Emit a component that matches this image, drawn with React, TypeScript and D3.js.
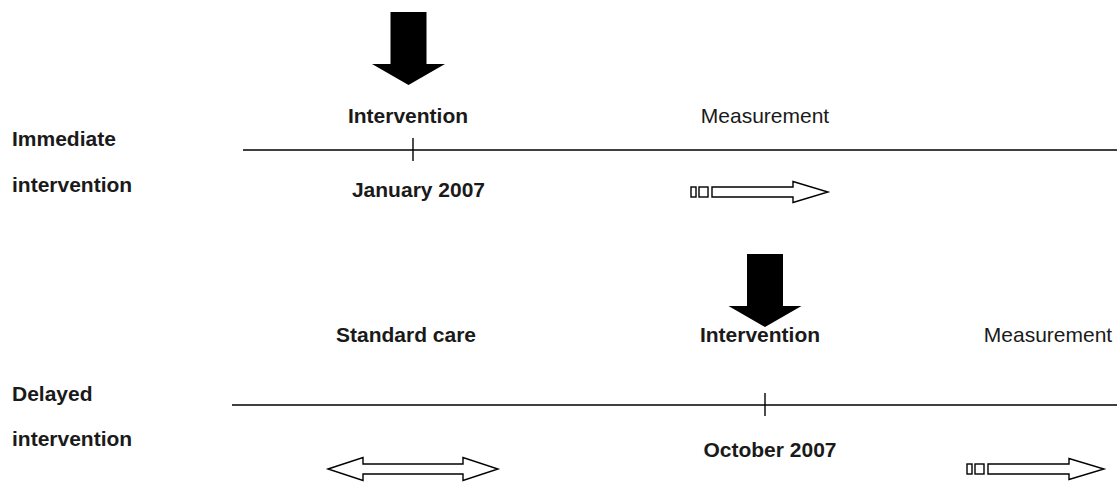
import React from "react";
import * as d3 from "d3";

// ---- data ----
const rowLabels: string[][] = [
  ["Immediate", "intervention"],
  ["Delayed", "intervention"],
];
const interventionMonths: number[] = [0, 9]; // months after January 2007
const dateLabels: string[] = ["January 2007", "October 2007"];
const measurementMonths: number[] = [9, 16];
const standardCareMonths: number[] = [0];
const interventionLabel = "Intervention";
const measurementLabel = "Measurement";
const standardCareLabel = "Standard care";

const W = 1120;
const H = 483;
const FONT = "'Liberation Sans', Arial, Helvetica, sans-serif";
const FS = 21;

export default function App() {
  const x = d3.scaleLinear().domain([0, 9]).range([413, 765]);

  const rowY = [150, 405]; // timeline y
  const lineStart = [243, 232];
  const arrowTop = [12, 254];
  const arrowDx = [-4.5, 0];
  const phaseBaseline = [123, 342];
  const rowLabelY = [[146, 192], [401, 446]];
  const dateBaseline = [197, 457];
  const dateDx = [5.5, 5];
  const interventionDx = [-5, -5];
  const measureLabelX = [765, 1048];
  const measureArrowX = [691, 967];
  const measureArrowY = [192, 469];

  const blackArrow = (cx: number, y0: number) => {
    const p = d3.path();
    p.moveTo(cx - 18, y0);
    p.lineTo(cx + 18, y0);
    p.lineTo(cx + 18, y0 + 52);
    p.lineTo(cx + 36.5, y0 + 52);
    p.lineTo(cx, y0 + 73);
    p.lineTo(cx - 36.5, y0 + 52);
    p.lineTo(cx - 18, y0 + 52);
    p.closePath();
    return p.toString();
  };

  const hollowArrow = (x0: number, cy: number) => {
    const p = d3.path();
    p.moveTo(x0 + 21, cy - 5);
    p.lineTo(x0 + 102, cy - 5);
    p.lineTo(x0 + 102, cy - 10.5);
    p.lineTo(x0 + 137, cy);
    p.lineTo(x0 + 102, cy + 10.5);
    p.lineTo(x0 + 102, cy + 5);
    p.lineTo(x0 + 21, cy + 5);
    p.closePath();
    return p.toString();
  };

  const doubleArrow = (xl: number, xr: number, cy: number) => {
    const p = d3.path();
    p.moveTo(xl, cy);
    p.lineTo(xl + 35, cy - 11.5);
    p.lineTo(xl + 35, cy - 5);
    p.lineTo(xr - 35, cy - 5);
    p.lineTo(xr - 35, cy - 11.5);
    p.lineTo(xr, cy);
    p.lineTo(xr - 35, cy + 11.5);
    p.lineTo(xr - 35, cy + 5);
    p.lineTo(xl + 35, cy + 5);
    p.lineTo(xl + 35, cy + 11.5);
    p.closePath();
    return p.toString();
  };

  const txt = "#1a1a1a";

  return (
    <svg
      width={W}
      height={H}
      style={{ position: "absolute", left: 0, top: 0, background: "#fff" }}
      fontFamily={FONT}
    >
      {/* Row labels */}
      {rowLabels.map((lines, i) => (
        <g key={"rl" + i}>
          {lines.map((l, j) => (
            <text key={j} x={12} y={rowLabelY[i][j]} fontSize={FS} fontWeight="bold" fill={txt}>
              {l}
            </text>
          ))}
        </g>
      ))}

      {/* Timelines */}
      {rowY.map((y, i) => (
        <g key={"tl" + i}>
          <line x1={lineStart[i]} x2={1117} y1={y} y2={y} stroke="#000" strokeWidth={1.4} />
          <line
            x1={x(interventionMonths[i])}
            x2={x(interventionMonths[i])}
            y1={y - 12}
            y2={y + 11}
            stroke="#000"
            strokeWidth={1.4}
          />
        </g>
      ))}

      {/* Black intervention arrows */}
      {interventionMonths.map((m, i) => (
        <path key={"ba" + i} d={blackArrow(x(m) + arrowDx[i], arrowTop[i])} fill="#000" />
      ))}

      {/* Intervention labels */}
      {interventionMonths.map((m, i) => (
        <text
          key={"il" + i}
          x={x(m) + interventionDx[i]}
          y={phaseBaseline[i]}
          textAnchor="middle"
          fontSize={FS}
          fontWeight="bold"
          fill={txt}
        >
          {interventionLabel}
        </text>
      ))}

      {/* Date labels */}
      {dateLabels.map((d, i) => (
        <text
          key={"dl" + i}
          x={x(interventionMonths[i]) + dateDx[i]}
          y={dateBaseline[i]}
          textAnchor="middle"
          fontSize={FS}
          fontWeight="bold"
          fill={txt}
        >
          {d}
        </text>
      ))}

      {/* Measurement labels and arrows */}
      {measurementMonths.map((m, i) => {
        const ay = measureArrowY[i];
        const ax0 = measureArrowX[i];
        return (
          <g key={"ms" + i} data-month={m}>
            <text
              x={measureLabelX[i]}
              y={phaseBaseline[i]}
              textAnchor="middle"
              fontSize={FS}
              fill={txt}
            >
              {measurementLabel}
            </text>
            <rect x={ax0} y={ay - 5} width={5} height={10} fill="#fff" stroke="#000" strokeWidth={1.4} />
            <rect x={ax0 + 8} y={ay - 5} width={9} height={10} fill="#fff" stroke="#000" strokeWidth={1.4} />
            <path d={hollowArrow(ax0, ay)} fill="#fff" stroke="#000" strokeWidth={1.4} />
          </g>
        );
      })}

      {/* Standard care */}
      {standardCareMonths.map((m, i) => (
        <g key={"sc" + i}>
          <text x={x(m) - 7} y={phaseBaseline[1]} textAnchor="middle" fontSize={FS} fontWeight="bold" fill={txt}>
            {standardCareLabel}
          </text>
          <path d={doubleArrow(328, 498, 469)} fill="#fff" stroke="#000" strokeWidth={1.4} />
        </g>
      ))}
    </svg>
  );
}
